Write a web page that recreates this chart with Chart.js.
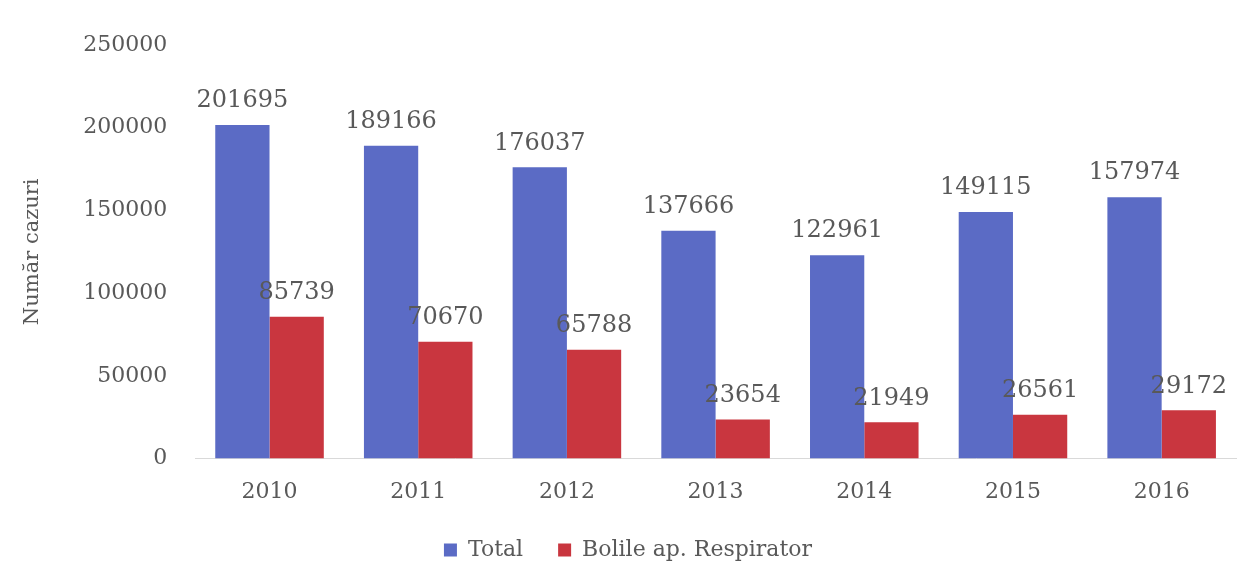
<!DOCTYPE html>
<html>
<head>
<meta charset="utf-8">
<script src="https://cdn.jsdelivr.net/npm/chart.js@4/dist/chart.umd.min.js"></script>
<style>
  html, body { margin: 0; padding: 0; background: #fff; }
  #wrap { width: 1255px; height: 581px; position: relative; }
</style>
</head>
<body>
<div id="wrap"><canvas id="casesChart"></canvas></div>
<script>
// data
const years = ['2010', '2011', '2012', '2013', '2014', '2015', '2016'];
const totalCases = [201695, 189166, 176037, 137666, 122961, 149115, 157974];
const respiratoryCases = [85739, 70670, 65788, 23654, 21949, 26561, 29172];
const yMax = 250000;
const yStep = 50000;

const textGray = '#595959';
const serif = "'DejaVu Serif', 'Liberation Serif', serif";

// simple value labels above each bar
const barLabels = {
    id: 'barLabels',
    afterDatasetsDraw(chart) {
        const ctx = chart.ctx;
        ctx.save();
        ctx.font = '24px ' + serif;
        ctx.fillStyle = textGray;
        ctx.textAlign = 'center';
        ctx.textBaseline = 'bottom';
        chart.data.datasets.forEach((ds, i) => {
            const meta = chart.getDatasetMeta(i);
            meta.data.forEach((bar, j) => {
                ctx.fillText(String(ds.data[j]), bar.x, bar.y - 12);
            });
        });
        ctx.restore();
    }
};

const ctx = document.getElementById('casesChart');
new Chart(ctx, {
    type: 'bar',
    data: {
        labels: years,
        datasets: [{
            label: 'Total',
            data: totalCases,
            backgroundColor: '#5B6BC5',
            categoryPercentage: 0.73,
            barPercentage: 1.0
        }, {
            label: 'Bolile ap. Respirator',
            data: respiratoryCases,
            backgroundColor: '#C9363F',
            categoryPercentage: 0.73,
            barPercentage: 1.0
        }]
    },
    options: {
        responsive: true,
        maintainAspectRatio: false,
        animation: false,
        layout: { padding: { left: 20, right: 19, top: 45, bottom: 10 } },
        plugins: {
            legend: {
                position: 'bottom',
                labels: {
                    font: { family: serif, size: 22 },
                    color: textGray,
                    boxWidth: 13,
                    boxHeight: 13,
                    padding: 14,
                    // a bit more room between the two entries, like the original
                    generateLabels(chart) {
                        const items = Chart.defaults.plugins.legend.labels.generateLabels(chart);
                        items[0].text = items[0].text + '   ';
                        return items;
                    }
                }
            },
            tooltip: { enabled: false }
        },
        scales: {
            x: {
                grid: { display: false, drawTicks: false },
                border: { display: true, color: '#D9D9D9', width: 1 },
                ticks: { font: { family: serif, size: 22 }, color: textGray, padding: 20 }
            },
            y: {
                min: 0,
                max: yMax,
                grid: { display: false, drawTicks: false },
                border: { display: false },
                ticks: {
                    stepSize: yStep,
                    font: { family: serif, size: 22 },
                    color: textGray,
                    padding: 28,
                    callback: (v) => String(v)
                },
                title: {
                    display: true,
                    text: 'Număr cazuri',
                    font: { family: serif, size: 21 },
                    color: textGray,
                    padding: { top: 0, bottom: 10 }
                }
            }
        }
    },
    plugins: [barLabels]
});
</script>
</body>
</html>
